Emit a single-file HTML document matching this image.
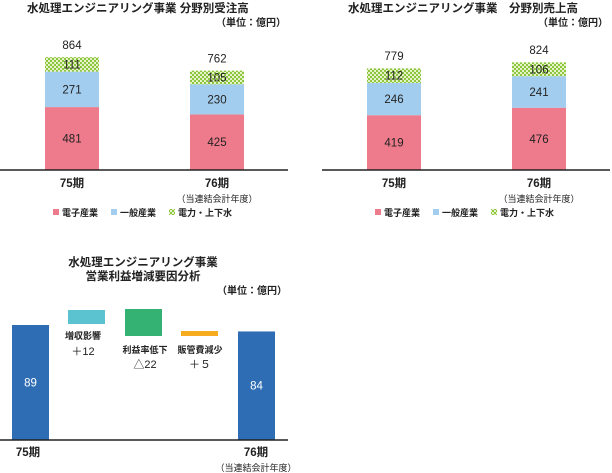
<!DOCTYPE html>
<html><head><meta charset="utf-8">
<style>
html,body{margin:0;padding:0;background:#fff;}
svg{display:block;font-family:"Liberation Sans","Noto Sans CJK JP",sans-serif;}
</style></head>
<body>
<svg width="612" height="473" viewBox="0 0 612 473">
<defs>
<pattern id="chk" width="4" height="4" patternUnits="userSpaceOnUse">
<rect width="4" height="4" fill="#8cc63f"/><rect width="2" height="2" fill="#e6f3c8"/><rect x="2" y="2" width="2" height="2" fill="#e6f3c8"/>
</pattern>
</defs>
<g id="g1"></g>
<g id="g2"></g>
<g id="g3"></g>
</svg>
<script>
const periods = ["75期","76期"];
const ordersElec = [481,425];
const ordersGen = [271,230];
const ordersPower = [111,105];
const ordersTotal = [864,762];
const salesElec = [419,476];
const salesGen = [246,241];
const salesPower = [112,106];
const salesTotal = [779,824];
const profitStart = 89;
const profitEnd = 84;
const factorLabels = ["増収影響","利益率低下","販管費減少"];
const factorValues = ["＋12","△22","＋５"];

const NS="http://www.w3.org/2000/svg";
function el(tag,attrs,parent,txt){const e=document.createElementNS(NS,tag);for(const k in attrs)e.setAttribute(k,attrs[k]);if(txt!==undefined)e.textContent=txt;parent.appendChild(e);return e;}

function stacked(g,ox,title,elec,gen,power,total,tx){
  const base=170, k=113/864;
  const y=v=>base-v*k;
  const bx=[ox+45,ox+190], bw=54;
  let t=el('text',{x:tx,y:12,'font-size':11.5,'font-weight':'bold',fill:'#222'},g,title);
  
  t=el('text',{x:ox+286,y:26,'font-size':10,'font-weight':'bold','text-anchor':'end',fill:'#222'},g,'（単位：億円）');
  
  for(let i=0;i<2;i++){
    const segs=[[elec[i],'#ee7b8b','bar-electronics'],[gen[i],'#a3cdef','bar-general'],[power[i],'url(#chk)','bar-power-water']];
    let acc=0;
    segs.forEach(s=>{
      const r=el('rect',{x:bx[i],y:y(acc+s[0]),width:bw,height:s[0]*k,fill:s[1]},g);
      
      const l=el('text',{x:bx[i]+bw/2,y:y(acc+s[0]/2)+4,'font-size':11.5,'text-anchor':'middle',fill:'#222'},g,String(s[0]));
      
      acc+=s[0];
    });
    const tl=el('text',{x:bx[i]+bw/2,y:y(total[i])-8,'font-size':11.5,'text-anchor':'middle',fill:'#222'},g,String(total[i]));
    
    const cl=el('text',{x:bx[i]+bw/2,y:187,'font-size':11.5,'font-weight':'bold','text-anchor':'middle',fill:'#222'},g,periods[i]);
    
  }
  const sub=el('text',{x:bx[1]+bw/2,y:202,'font-size':9,'text-anchor':'middle',fill:'#222'},g,'（当連結会計年度）');
  
  const ax=el('line',{x1:ox,x2:ox+288,y1:base,y2:base,stroke:'#222','stroke-width':1.5},g);
  
  const leg=[['#ee7b8b','電子産業',ox+53],['#a3cdef','一般産業',ox+111],['url(#chk)','電力・上下水',ox+169]];
  leg.forEach(L=>{
    const r=el('rect',{x:L[2],y:209,width:6,height:6,fill:L[0]},g);
    
    const tt=el('text',{x:L[2]+9,y:216,'font-size':9,'font-weight':'bold',fill:'#222'},g,L[1]);
    
  });
}
stacked(document.getElementById('g1'),0,'水処理エンジニアリング事業 分野別受注高',ordersElec,ordersGen,ordersPower,ordersTotal,27);
stacked(document.getElementById('g2'),322,'水処理エンジニアリング事業　分野別売上高',salesElec,salesGen,salesPower,salesTotal,348);

(function(){
  const g=document.getElementById('g3');
  const base=440,k=115/89;
  const y=v=>base-v*k;
  let t=el('text',{x:143,y:266,'font-size':11.5,'font-weight':'bold','text-anchor':'middle',fill:'#222'},g,'水処理エンジニアリング事業');
  
  t=el('text',{x:143,y:280,'font-size':11.5,'font-weight':'bold','text-anchor':'middle',fill:'#222'},g,'営業利益増減要因分析');
  
  t=el('text',{x:287,y:294,'font-size':10,'font-weight':'bold','text-anchor':'end',fill:'#222'},g,'（単位：億円）');
  
  const bars=[[12,profitStart,'bar-75'],[238,profitEnd,'bar-76']];
  bars.forEach(b=>{
    const r=el('rect',{x:b[0],y:y(b[1]),width:37,height:b[1]*k,fill:'#2e6db4'},g);
    
    const l=el('text',{x:b[0]+18.5,y:y(b[1]/2)+4,'font-size':11.5,'text-anchor':'middle',fill:'#fff'},g,String(b[1]));
    
  });
  const boxes=[[68,310,14,'#5bc3d0',83,339,355],[125,309,27,'#34b274',145,353,368],[181,331,5,'#f6ac1e',200,353,368]];
  boxes.forEach((b,i)=>{
    const r=el('rect',{x:b[0],y:b[1],width:37,height:b[2],fill:b[3]},g);
    
    const l=el('text',{x:b[4],y:b[5],'font-size':9,'font-weight':'bold','text-anchor':'middle',fill:'#222'},g,factorLabels[i]);
    
    const v=el('text',{x:b[4],y:b[6],'font-size':11,'text-anchor':'middle',fill:'#222'},g,factorValues[i]);
    
  });
  const ax=el('line',{x1:0,x2:288,y1:base,y2:base,stroke:'#222','stroke-width':1.5},g);
  
  [[28,periods[0]],[256,periods[1]]].forEach(c=>{
    const l=el('text',{x:c[0],y:456,'font-size':11.5,'font-weight':'bold','text-anchor':'middle',fill:'#222'},g,c[1]);
    
  });
  const sub=el('text',{x:256,y:471,'font-size':9,'text-anchor':'middle',fill:'#222'},g,'（当連結会計年度）');
  
})();
</script>
</body></html>
